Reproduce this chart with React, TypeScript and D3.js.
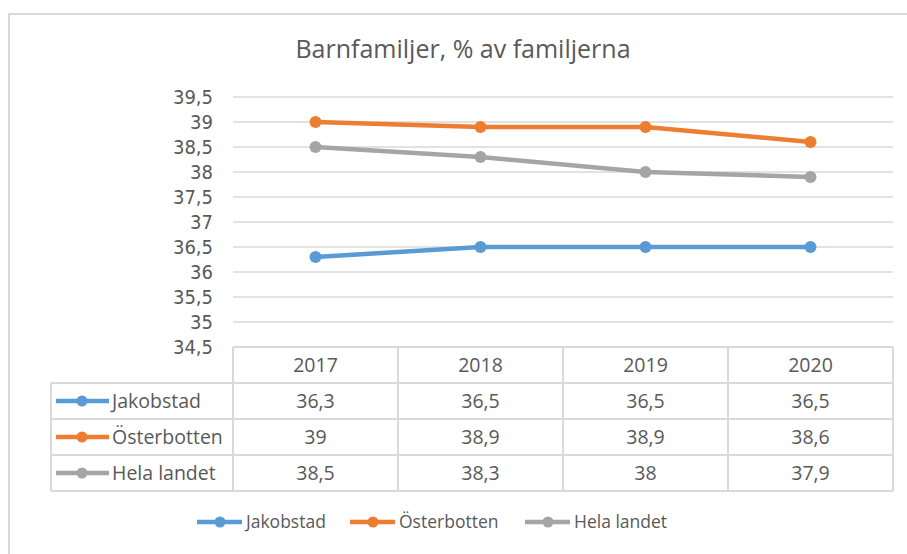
import React, { useEffect, useRef } from 'react';
import * as d3 from 'd3';

const years = ['2017', '2018', '2019', '2020'];
const seriesNames = ['Jakobstad', 'Österbotten', 'Hela landet'];
const jakobstad = [36.3, 36.5, 36.5, 36.5];
const osterbotten = [39, 38.9, 38.9, 38.6];
const helaLandet = [38.5, 38.3, 38, 37.9];
const yTicks = [34.5, 35, 35.5, 36, 36.5, 37, 37.5, 38, 38.5, 39, 39.5];
const colors = ['#5B9BD5', '#ED7D31', '#A5A5A5'];

const fmt = (v: number) => String(v).replace('.', ',');

export default function App() {
  const svgRef = useRef<SVGSVGElement>(null);

  useEffect(() => {
    const width = 907;
    const height = 554;
    const font = "'Open Sans', sans-serif";
    const axisFont = "'DejaVu Sans Condensed', 'Open Sans', sans-serif";
    const textColor = '#595959';
    const gridColor = '#D9D9D9';

    const plot = { left: 233, right: 893, top: 97, bottom: 347 };
    const rowH = 36;
    const labelLeft = 51;

    const series = [jakobstad, osterbotten, helaLandet];

    d3.select(svgRef.current).selectAll('*').remove();
    const svg = d3.select(svgRef.current)
      .attr('width', width)
      .attr('height', height);

    // Chart border
    svg.append('rect')
      .attr('x', 9)
      .attr('y', 14)
      .attr('width', width)
      .attr('height', height)
      .attr('fill', '#fff')
      .attr('stroke', gridColor)
      .attr('stroke-width', 2);

    // Title
    svg.append('text')
      .attr('x', 463)
      .attr('y', 58)
      .attr('text-anchor', 'middle')
      .attr('fill', textColor)
      .style('font-family', font)
      .style('font-size', '25px')
      .text('Barnfamiljer, % av familjerna');

    const x = d3.scaleBand()
      .domain(years)
      .range([plot.left, plot.right]);

    const y = d3.scaleLinear()
      .domain([34.5, 39.5])
      .range([plot.bottom, plot.top]);

    // Grid lines
    svg.append('g')
      .selectAll('line')
      .data(yTicks.filter(t => t > 34.5))
      .enter()
      .append('line')
      .attr('x1', plot.left)
      .attr('x2', plot.right)
      .attr('y1', d => y(d))
      .attr('y2', d => y(d))
      .attr('stroke', gridColor)
      .attr('stroke-width', 1.5);

    // Y labels
    svg.append('g')
      .selectAll('text')
      .data(yTicks)
      .enter()
      .append('text')
      .attr('x', 213)
      .attr('y', d => y(d))
      .attr('dy', '0.36em')
      .attr('text-anchor', 'end')
      .attr('fill', textColor)
      .style('font-family', axisFont)
      .style('font-size', '20px')
      .text(d => fmt(d));

    // Lines and markers
    const line = d3.line<number>()
      .x((d, i) => x(years[i])! + x.bandwidth() / 2)
      .y(d => y(d));

    series.forEach((vals, si) => {
      svg.append('path')
        .datum(vals)
        .attr('fill', 'none')
        .attr('stroke', colors[si])
        .attr('stroke-width', 4.5)
        .attr('stroke-linejoin', 'round')
        .attr('d', line);

      svg.append('g')
        .selectAll('circle')
        .data(vals)
        .enter()
        .append('circle')
        .attr('cx', (d, i) => x(years[i])! + x.bandwidth() / 2)
        .attr('cy', d => y(d))
        .attr('r', 6)
        .attr('fill', colors[si]);
    });

    // Data table
    const table = svg.append('g');
    const tableBottom = plot.bottom + rowH * 4;

    // horizontal lines
    [0, 1, 2, 3, 4].forEach(r => {
      table.append('line')
        .attr('x1', r === 0 ? plot.left : labelLeft)
        .attr('x2', plot.right)
        .attr('y1', plot.bottom + r * rowH)
        .attr('y2', plot.bottom + r * rowH)
        .attr('stroke', gridColor)
        .attr('stroke-width', 2);
    });
    // vertical lines
    table.append('line')
      .attr('x1', labelLeft).attr('x2', labelLeft)
      .attr('y1', plot.bottom + rowH).attr('y2', tableBottom)
      .attr('stroke', gridColor).attr('stroke-width', 2);
    years.concat(['end']).forEach((yr, i) => {
      const xx = i < years.length ? x(yr)! : plot.right;
      table.append('line')
        .attr('x1', xx).attr('x2', xx)
        .attr('y1', plot.bottom).attr('y2', tableBottom)
        .attr('stroke', gridColor).attr('stroke-width', 2);
    });

    // header
    table.selectAll('.hdr')
      .data(years)
      .enter()
      .append('text')
      .attr('class', 'hdr')
      .attr('x', d => x(d)! + x.bandwidth() / 2)
      .attr('y', plot.bottom + rowH / 2)
      .attr('dy', '0.35em')
      .attr('text-anchor', 'middle')
      .attr('fill', textColor)
      .style('font-family', font)
      .style('font-size', '19.5px')
      .text(d => d);

    series.forEach((vals, si) => {
      const cy = plot.bottom + rowH * (si + 1) + rowH / 2;
      table.append('line')
        .attr('x1', 56).attr('x2', 109)
        .attr('y1', cy).attr('y2', cy)
        .attr('stroke', colors[si]).attr('stroke-width', 4.5);
      table.append('circle')
        .attr('cx', 82).attr('cy', cy).attr('r', 5.5).attr('fill', colors[si]);
      table.append('text')
        .attr('x', 112)
        .attr('y', cy)
        .attr('dy', '0.35em')
        .attr('fill', textColor)
        .style('font-family', font)
        .style('font-size', '19.5px')
        .text(seriesNames[si]);

      table.selectAll(`.v${si}`)
        .data(vals)
        .enter()
        .append('text')
        .attr('class', `v${si}`)
        .attr('x', (d, i) => x(years[i])! + x.bandwidth() / 2)
        .attr('y', cy)
        .attr('dy', '0.35em')
        .attr('text-anchor', 'middle')
        .attr('fill', textColor)
        .style('font-family', font)
        .style('font-size', '19.5px')
        .text(d => fmt(d));
    });

    // Legend
    const legendX = [197, 350, 525];
    const legendY = 522;
    seriesNames.forEach((name, si) => {
      const lx = legendX[si];
      svg.append('line')
        .attr('x1', lx).attr('x2', lx + 45)
        .attr('y1', legendY).attr('y2', legendY)
        .attr('stroke', colors[si]).attr('stroke-width', 4.5);
      svg.append('circle')
        .attr('cx', lx + 23).attr('cy', legendY).attr('r', 5.5).attr('fill', colors[si]);
      svg.append('text')
        .attr('x', lx + 49)
        .attr('y', legendY)
        .attr('dy', '0.35em')
        .attr('fill', textColor)
        .style('font-family', font)
        .style('font-size', '17.5px')
        .text(name);
    });
  }, []);

  return (
    <div style={{ position: 'absolute', left: 0, top: 0, width: 907, height: 554, overflow: 'hidden' }}>
      <svg ref={svgRef} style={{ display: 'block' }}></svg>
    </div>
  );
}
